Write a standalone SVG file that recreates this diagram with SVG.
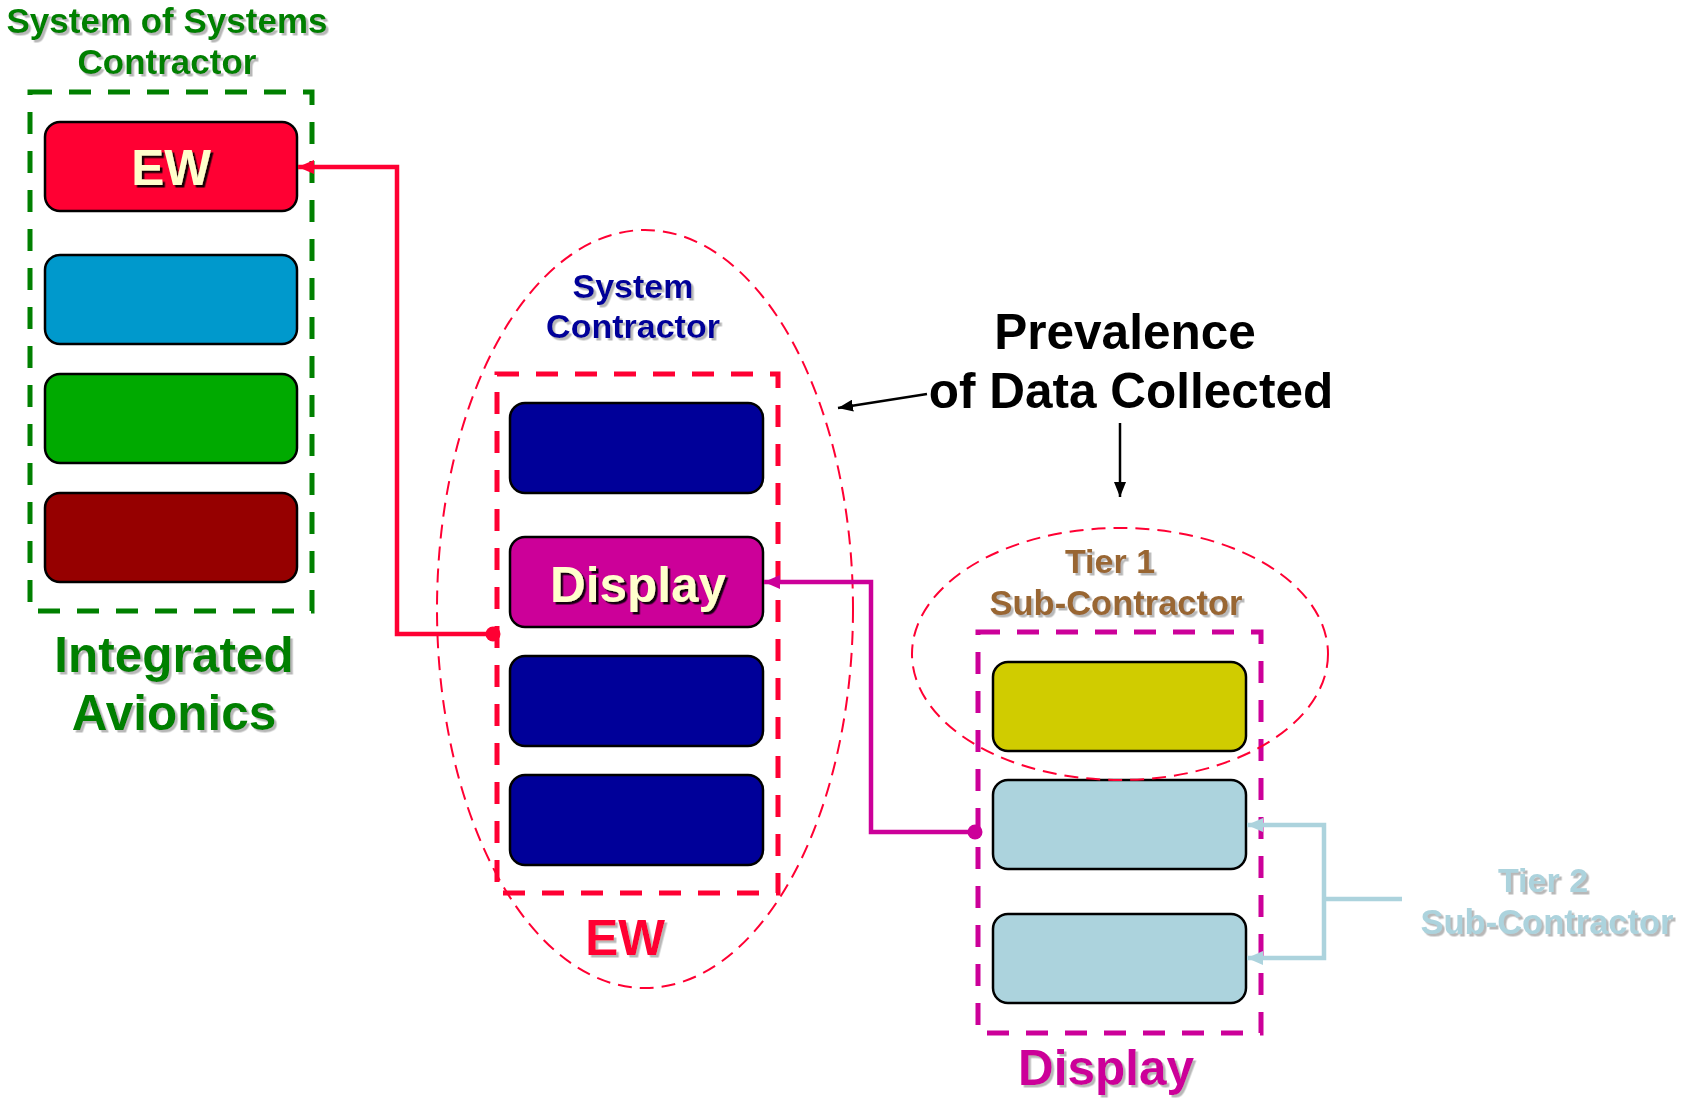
<svg xmlns="http://www.w3.org/2000/svg" width="1688" height="1099" viewBox="0 0 1688 1099">
<style>
text { font-family: "Liberation Sans", Arial, sans-serif; font-weight: bold; text-anchor: middle; }
.box { stroke: #000; stroke-width: 2.5; }
.frame { fill: none; stroke-width: 5; stroke-dasharray: 22 17; }
.oval { fill: none; stroke: #FF0033; stroke-width: 2; stroke-dasharray: 14 8; }
.lbl { filter: url(#sh); }
.inbox { fill: #FFFFCC; filter: url(#shd); font-size: 49.5px; }
.conn { fill: none; stroke-width: 4.5; }
</style>
<defs>
<filter id="sh" x="-10%" y="-20%" width="130%" height="150%">
<feDropShadow dx="2.5" dy="2.5" stdDeviation="0.6" flood-color="#9a9a9a" flood-opacity="0.7"/>
</filter>
<filter id="shd" x="-10%" y="-20%" width="130%" height="150%">
<feDropShadow dx="2.5" dy="2.5" stdDeviation="0.4" flood-color="#000" flood-opacity="0.9"/>
</filter>
<marker id="aRed" viewBox="0 0 16 14" refX="16" refY="7" markerWidth="16" markerHeight="14" markerUnits="userSpaceOnUse" orient="auto"><path d="M0,0 L16,7 L0,14 z" fill="#FF0033"/></marker>
<marker id="aMag" viewBox="0 0 16 14" refX="16" refY="7" markerWidth="16" markerHeight="14" markerUnits="userSpaceOnUse" orient="auto"><path d="M0,0 L16,7 L0,14 z" fill="#CC0099"/></marker>
<marker id="aLB" viewBox="0 0 16 14" refX="16" refY="7" markerWidth="16" markerHeight="14" markerUnits="userSpaceOnUse" orient="auto"><path d="M0,0 L16,7 L0,14 z" fill="#ACD3DD"/></marker>
<marker id="aBlk" viewBox="0 0 15 12" refX="15" refY="6" markerWidth="15" markerHeight="12" markerUnits="userSpaceOnUse" orient="auto"><path d="M0,0 L15,6 L0,12 z" fill="#000"/></marker>
</defs>
<rect width="1688" height="1099" fill="#fff"/>

<g id="sos-contractor">
<rect class="frame" x="30" y="92" width="282" height="519" stroke="#008000"/>
<text class="lbl" x="167" y="33" font-size="35" fill="#008000">System of Systems</text>
<text class="lbl" x="167" y="74" font-size="35" fill="#008000">Contractor</text>
<text class="lbl" x="174" y="672" font-size="49.5" fill="#008000">Integrated</text>
<text class="lbl" x="174" y="730" font-size="49.5" fill="#008000">Avionics</text>
</g>
<g id="ia-ew"><rect class="box" x="45" y="122" width="252" height="89" rx="15" fill="#FF0033"/><text class="inbox" x="171" y="185">EW</text></g>
<g id="ia-blue"><rect class="box" x="45" y="255" width="252" height="89" rx="15" fill="#0099CC"/></g>
<g id="ia-green"><rect class="box" x="45" y="374" width="252" height="89" rx="15" fill="#00AA00"/></g>
<g id="ia-darkred"><rect class="box" x="45" y="493" width="252" height="89" rx="15" fill="#960000"/></g>

<g id="system-contractor">
<rect class="frame" x="497" y="374" width="281" height="519" stroke="#FF0033"/>
<text class="lbl" x="633" y="298" font-size="34" fill="#000099">System</text>
<text class="lbl" x="633" y="338" font-size="34" fill="#000099">Contractor</text>
<text class="lbl" x="625" y="955" font-size="49.5" fill="#FF0033">EW</text>
</g>
<g id="ew-1"><rect class="box" x="510" y="403" width="253" height="90" rx="15" fill="#000099"/></g>
<g id="ew-display"><rect class="box" x="510" y="537" width="253" height="90" rx="15" fill="#CC0099"/><text class="inbox" x="638" y="602">Display</text></g>
<g id="ew-3"><rect class="box" x="510" y="656" width="253" height="90" rx="15" fill="#000099"/></g>
<g id="ew-4"><rect class="box" x="510" y="775" width="253" height="90" rx="15" fill="#000099"/></g>
<g id="system-oval"><ellipse class="oval" cx="645" cy="609" rx="208" ry="379"/></g>

<g id="display-contractor">
<rect class="frame" x="978" y="632" width="283" height="401" stroke="#CC0099"/>
<text class="lbl" x="1110" y="573" font-size="34" fill="#996633">Tier 1</text>
<text class="lbl" x="1116" y="615" font-size="34.5" fill="#996633">Sub-Contractor</text>
<text class="lbl" x="1106" y="1085" font-size="49.5" fill="#CC0099">Display</text>
</g>
<g id="disp-yellow"><rect class="box" x="993" y="662" width="253" height="89" rx="15" fill="#D0CC00"/></g>
<g id="disp-lb1"><rect class="box" x="993" y="780" width="253" height="89" rx="15" fill="#ACD3DD"/></g>
<g id="disp-lb2"><rect class="box" x="993" y="914" width="253" height="89" rx="15" fill="#ACD3DD"/></g>
<g id="tier1-oval"><ellipse class="oval" cx="1120" cy="654" rx="208" ry="126"/></g>

<g id="prevalence">
<text x="1125" y="349" font-size="49.5" fill="#000">Prevalence</text>
<text x="1131" y="408" font-size="49.5" fill="#000">of Data Collected</text>
</g>
<g id="tier2">
<text class="lbl" x="1543" y="892" font-size="34" fill="#ACD3DD">Tier 2</text>
<text class="lbl" x="1547" y="934" font-size="34.5" fill="#ACD3DD">Sub-Contractor</text>
</g>

<g id="connectors">
<path class="conn" d="M493,634 H397 V167 H298" stroke="#FF0033" marker-end="url(#aRed)"/>
<circle cx="493" cy="634" r="7.5" fill="#FF0033"/>
<path class="conn" d="M975,832 H871 V582 H764" stroke="#CC0099" marker-end="url(#aMag)"/>
<circle cx="975" cy="832" r="7.5" fill="#CC0099"/>
<path class="conn" d="M1402,899 H1324" stroke="#ACD3DD" stroke-width="5"/>
<path class="conn" d="M1324,899 V825 H1247" stroke="#ACD3DD" stroke-width="5" marker-end="url(#aLB)"/>
<path class="conn" d="M1324,899 V958 H1247" stroke="#ACD3DD" stroke-width="5" marker-end="url(#aLB)"/>
<path d="M927,394 L838,408" stroke="#000" stroke-width="2.5" fill="none" marker-end="url(#aBlk)"/>
<path d="M1120,423 V497" stroke="#000" stroke-width="2.5" fill="none" marker-end="url(#aBlk)"/>
</g>
</svg>
